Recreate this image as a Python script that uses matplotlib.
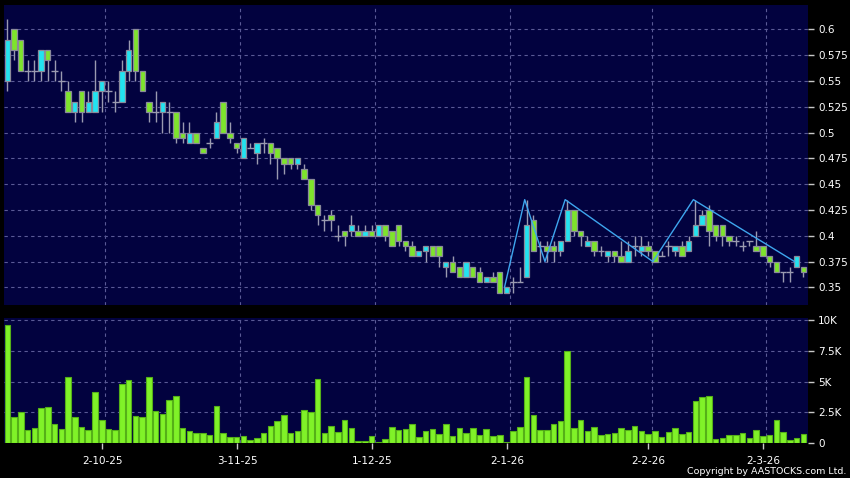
import matplotlib
matplotlib.use("Agg")
import matplotlib.pyplot as plt
import numpy as np

# ---------------- data ----------------
opens = [0.55, 0.60, 0.59, 0.56, 0.56, 0.56, 0.58, 0.56, 0.55, 0.54,
         0.52, 0.54, 0.52, 0.52, 0.54, 0.54, 0.53, 0.53, 0.56, 0.60,
         0.56, 0.53, 0.52, 0.52, 0.52, 0.52, 0.50, 0.49, 0.50, 0.485,
         0.49, 0.495, 0.53, 0.50, 0.49, 0.475, 0.485, 0.48, 0.49, 0.49,
         0.485, 0.475, 0.475, 0.47, 0.465, 0.455, 0.43, 0.415, 0.42, 0.40,
         0.405, 0.405, 0.405, 0.40, 0.405, 0.40, 0.41, 0.405, 0.41, 0.395,
         0.39, 0.38, 0.385, 0.39, 0.39, 0.37, 0.375, 0.37, 0.36, 0.37,
         0.365, 0.355, 0.36, 0.365, 0.345, 0.355, 0.355, 0.36, 0.415, 0.39,
         0.39, 0.39, 0.385, 0.395, 0.425, 0.405, 0.39, 0.395, 0.385, 0.38,
         0.385, 0.38, 0.375, 0.39, 0.385, 0.39, 0.385, 0.38, 0.39, 0.385,
         0.39, 0.385, 0.40, 0.41, 0.425, 0.41, 0.41, 0.40, 0.395, 0.39,
         0.395, 0.39, 0.39, 0.38, 0.375, 0.365, 0.365, 0.37, 0.37]
highs = [0.61, 0.60, 0.59, 0.57, 0.57, 0.58, 0.58, 0.57, 0.56, 0.55,
         0.53, 0.54, 0.54, 0.57, 0.55, 0.55, 0.54, 0.57, 0.59, 0.60,
         0.56, 0.53, 0.54, 0.53, 0.53, 0.52, 0.51, 0.51, 0.50, 0.485,
         0.495, 0.52, 0.53, 0.51, 0.49, 0.495, 0.49, 0.49, 0.495, 0.49,
         0.485, 0.475, 0.475, 0.475, 0.47, 0.455, 0.43, 0.42, 0.425, 0.41,
         0.405, 0.42, 0.41, 0.41, 0.41, 0.41, 0.41, 0.405, 0.41, 0.395,
         0.395, 0.385, 0.39, 0.39, 0.39, 0.375, 0.38, 0.37, 0.375, 0.37,
         0.37, 0.36, 0.365, 0.365, 0.35, 0.36, 0.37, 0.435, 0.42, 0.395,
         0.395, 0.395, 0.395, 0.435, 0.425, 0.405, 0.40, 0.395, 0.39, 0.385,
         0.385, 0.395, 0.395, 0.40, 0.40, 0.395, 0.385, 0.385, 0.395, 0.39,
         0.395, 0.40, 0.435, 0.425, 0.43, 0.41, 0.41, 0.40, 0.40, 0.395,
         0.395, 0.405, 0.39, 0.38, 0.375, 0.365, 0.37, 0.38, 0.37]
lows = [0.54, 0.57, 0.56, 0.55, 0.55, 0.55, 0.55, 0.55, 0.54, 0.52,
        0.51, 0.51, 0.52, 0.52, 0.52, 0.53, 0.52, 0.53, 0.55, 0.55,
        0.54, 0.51, 0.51, 0.50, 0.50, 0.49, 0.49, 0.49, 0.49, 0.48,
        0.485, 0.495, 0.50, 0.49, 0.48, 0.475, 0.485, 0.47, 0.48, 0.47,
        0.455, 0.46, 0.465, 0.465, 0.455, 0.425, 0.41, 0.405, 0.405, 0.395,
        0.39, 0.40, 0.40, 0.40, 0.40, 0.40, 0.395, 0.39, 0.39, 0.385,
        0.38, 0.38, 0.375, 0.38, 0.37, 0.36, 0.365, 0.36, 0.36, 0.36,
        0.355, 0.355, 0.355, 0.345, 0.345, 0.345, 0.355, 0.36, 0.385, 0.375,
        0.375, 0.375, 0.38, 0.395, 0.40, 0.39, 0.39, 0.38, 0.38, 0.375,
        0.375, 0.375, 0.375, 0.38, 0.38, 0.38, 0.375, 0.38, 0.38, 0.38,
        0.38, 0.385, 0.40, 0.41, 0.39, 0.395, 0.39, 0.39, 0.39, 0.385,
        0.39, 0.385, 0.38, 0.37, 0.365, 0.355, 0.355, 0.37, 0.36]
closes = [0.59, 0.58, 0.56, 0.56, 0.56, 0.58, 0.57, 0.56, 0.55, 0.52,
          0.53, 0.52, 0.53, 0.54, 0.55, 0.54, 0.53, 0.56, 0.58, 0.56,
          0.54, 0.52, 0.52, 0.53, 0.52, 0.495, 0.495, 0.50, 0.49, 0.48,
          0.49, 0.51, 0.50, 0.495, 0.485, 0.495, 0.485, 0.49, 0.49, 0.48,
          0.475, 0.47, 0.47, 0.475, 0.455, 0.43, 0.42, 0.415, 0.415, 0.40,
          0.40, 0.41, 0.40, 0.405, 0.40, 0.41, 0.40, 0.39, 0.395, 0.39,
          0.38, 0.385, 0.39, 0.38, 0.38, 0.375, 0.365, 0.36, 0.375, 0.36,
          0.355, 0.36, 0.355, 0.345, 0.35, 0.355, 0.355, 0.41, 0.385, 0.39,
          0.385, 0.385, 0.395, 0.425, 0.405, 0.40, 0.395, 0.385, 0.385, 0.385,
          0.38, 0.375, 0.385, 0.39, 0.39, 0.385, 0.375, 0.38, 0.39, 0.39,
          0.38, 0.395, 0.41, 0.42, 0.405, 0.40, 0.40, 0.395, 0.395, 0.39,
          0.395, 0.385, 0.38, 0.375, 0.365, 0.365, 0.365, 0.38, 0.365]
volumes_k = [9.6, 2.1, 2.5, 1.08, 1.24, 2.9, 2.97, 1.6, 1.16, 5.4,
             2.1, 1.3, 1.05, 4.16, 1.9, 1.16, 1.05, 4.84, 5.1, 2.2,
             2.1, 5.35, 2.6, 2.4, 3.5, 3.86, 1.27, 1.0, 0.84, 0.84,
             0.68, 3.0, 0.81, 0.54, 0.54, 0.6, 0.27, 0.43, 0.84, 1.43,
             1.78, 2.32, 0.86, 1.03, 2.73, 2.5, 5.24, 0.81, 1.43, 0.95,
             1.86, 1.27, 0.22, 0.22, 0.62, 0.08, 0.35, 1.35, 1.08, 1.16,
             1.57, 0.54, 0.97, 1.19, 0.73, 1.54, 0.57, 1.24, 0.86, 1.24,
             0.65, 1.16, 0.57, 0.7, 0.08, 0.97, 1.3, 5.38, 2.27, 1.1,
             1.1, 1.57, 1.78, 7.49, 1.27, 1.86, 0.97, 1.3, 0.68, 0.73,
             0.81, 1.24, 1.08, 1.38, 1.0, 0.78, 1.0, 0.51, 0.95, 1.22,
             0.76, 0.89, 3.46, 3.73, 3.84, 0.38, 0.41, 0.65, 0.68, 0.84,
             0.43, 1.08, 0.6, 0.7, 1.86, 0.95, 0.27, 0.43, 0.76]

# zigzag overlay (bar index, price)
zz_idx = [74, 77, 80, 83, 96, 102, 117]
zz_val = [0.35, 0.435, 0.375, 0.435, 0.375, 0.435, 0.375]

# date axis
date_idx = [15, 35, 55, 75, 96, 113]
date_labels = ["2-10-25", "3-11-25", "1-12-25", "2-1-26", "2-2-26", "2-3-26"]

price_ticks = [0.35, 0.375, 0.4, 0.425, 0.45, 0.475, 0.5, 0.525, 0.55, 0.575, 0.6]
price_tick_labels = ["0.35", "0.375", "0.4", "0.425", "0.45", "0.475", "0.5",
                     "0.525", "0.55", "0.575", "0.6"]
vol_ticks = [0, 2500, 5000, 7500, 10000]
vol_tick_labels = ["0", "2.5K", "5K", "7.5K", "10K"]

# ---------------- style ----------------
BG = "#02023f"
UP = "#22e3f0"
DOWN = "#7ee42c"
WICK = "#9a9ab0"
EDGE = "#8a8a9a"
GRID = "#5a5a96"
VOLC = "#80f228"

plt.rcParams['font.family'] = ['DejaVu Sans']

W, H = 850, 478
fig = plt.figure(figsize=(W / 100, H / 100), dpi=100, facecolor="black")
left, right = 4, 808.3
ax = fig.add_axes([left / W, 1 - 305 / H, (right - left) / W, 300 / H])
axv = fig.add_axes([left / W, 1 - 443.3 / H, (right - left) / W, 125.3 / H])

o = np.array(opens); h = np.array(highs); l = np.array(lows); c = np.array(closes)
x = np.arange(len(o))
n = len(o)
xlim = (-0.49, 118.74)

for a in (ax, axv):
    a.set_facecolor(BG)
    for s in a.spines.values():
        s.set_visible(False)
    a.set_xlim(*xlim)
    for d in date_idx:
        a.axvline(d - 0.47, color=GRID, lw=0.8, ls=(0, (3, 3)), zorder=1)

# price panel
ax.set_ylim(0.3329, 0.6236)
for t in price_ticks:
    ax.axhline(t, color=GRID, lw=0.8, ls=(0, (3, 3)), zorder=1)

ax.vlines(x, l, h, color=WICK, lw=1.0, zorder=2)
doji = np.isclose(o, c)
body = ~doji
cols = np.where(c > o, UP, DOWN)
ax.bar(x[body], np.abs(c - o)[body], bottom=np.minimum(o, c)[body], width=0.8,
       color=cols[body], edgecolor=EDGE, linewidth=0.9, zorder=3)
ax.hlines(c[doji], x[doji] - 0.5, x[doji] + 0.5, color=WICK, lw=1.0, zorder=3)

ax.plot(np.array(zz_idx) - 0.3, zz_val, color="#3ea6ee", lw=1.0, zorder=4)

ax.yaxis.tick_right()
ax.set_yticks(price_ticks)
ax.set_yticklabels(price_tick_labels)
ax.tick_params(axis="y", colors="#c8c8c8", length=4, width=1, direction="out",
               labelsize=7.5, pad=3, labelcolor="white")
ax.set_xticks([])

# volume panel
axv.set_ylim(0, 10160)
for t in vol_ticks[1:]:
    axv.axhline(t, color=GRID, lw=0.8, ls=(0, (3, 3)), zorder=1)
axv.bar(x, np.array(volumes_k) * 1000, width=0.82, color=VOLC,
        edgecolor="#55b018", linewidth=0.8, zorder=3)
axv.yaxis.tick_right()
axv.set_yticks(vol_ticks)
axv.set_yticklabels(vol_tick_labels)
axv.tick_params(axis="y", colors="#c8c8c8", length=4, width=1, direction="out",
                labelsize=7.5, pad=3, labelcolor="white")
axv.set_xticks(np.array(date_idx) - 0.95)
axv.set_xticklabels(date_labels)
axv.tick_params(axis="x", colors="#c8c8c8", length=4, width=1, direction="out",
                labelsize=7.5, pad=5, labelcolor="white")

fig.text(846 / W, 1 - 471.7 / H, "Copyright by AASTOCKS.com Ltd.", ha="right",
         va="center", color="white", fontsize=6.8)

fig.savefig("out.png", dpi=100, facecolor="black")
